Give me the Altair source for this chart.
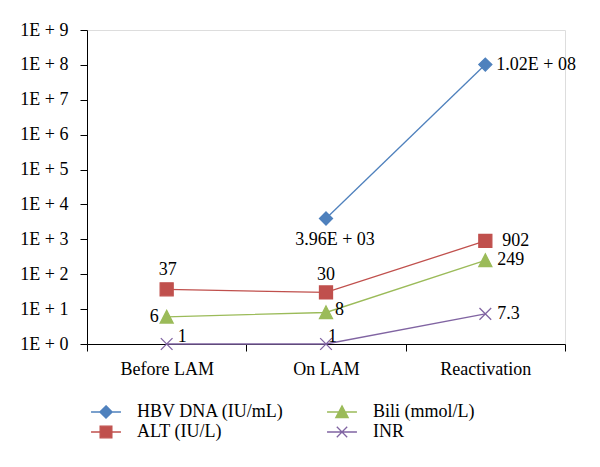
import altair as alt
import pandas as pd

stages = ["Before LAM", "On LAM", "Reactivation"]
series = ["HBV DNA (IU/mL)", "ALT (IU/L)", "Bili (mmol/L)", "INR"]
hbv_dna = [None, 3.96e3, 1.02e8]
alt_iu = [37, 30, 902]
bili = [6, 8, 249]
inr = [1, 1, 7.3]
colors = ["#4F81BD", "#C0504D", "#9BBB59", "#8064A2"]
y_ticks = [10 ** i for i in range(10)]

values = {series[0]: hbv_dna, series[1]: alt_iu, series[2]: bili, series[3]: inr}


def fmt(s, v):
    if s == series[0]:
        m, e = f"{v:.2E}".split("E")
        return f"{m}E + {int(e):02d}"
    return f"{v:g}"


rows = []
for s in series:
    for st, v in zip(stages, values[s]):
        if v is not None:
            rows.append({"series": s, "stage": st, "value": v, "label": fmt(s, v)})
df = pd.DataFrame(rows)

# marker paths (unit coords, scaled by sqrt(size)/2)
plot_paths = [
    "M0,-1L1,0L0,1L-1,0Z",
    "M-1,-1H1V1H-1Z",
    "M0,-1L1,0.95H-1Z",
    "M-0.9,-0.9L0.9,0.9M-0.9,0.9L0.9,-0.9",
]
legend_paths = [
    "M-2.3,0H2.3M0,-0.95L0.95,0L0,0.95L-0.95,0Z",
    "M-2.3,0H2.3M-0.9,-0.9H0.9V0.9H-0.9Z",
    "M-2.3,0H2.3M0,-0.95L0.95,0.85H-0.95Z",
    "M-2.3,0H2.3M-0.8,-0.8L0.8,0.8M-0.8,0.8L0.8,-0.8",
]

fills = colors[:3] + ["transparent"]

FONT = "Liberation Serif"

x_enc = alt.X(
    "stage:N",
    sort=stages,
    scale=alt.Scale(type="band", domain=stages, paddingInner=0, paddingOuter=0),
    axis=alt.Axis(
        title=None, tickBand="extent", labelAngle=0, tickSize=7, labelPadding=9,
        domainColor="black", tickColor="black", labelColor="black",
        labelFont=FONT, labelFontSize=18, grid=False,
    ),
)
y_enc = alt.Y(
    "value:Q",
    scale=alt.Scale(type="log", domain=[1, 1e9], nice=False),
    axis=alt.Axis(
        title=None, values=y_ticks,
        labelExpr="'1E + ' + round(log(datum.value) / LN10)",
        tickSize=7, labelPadding=12, domainColor="black", tickColor="black",
        labelColor="black", labelFont=FONT, labelFontSize=18, grid=False,
    ),
)
stroke_scale = alt.Scale(domain=series, range=colors)
fill_scale = alt.Scale(domain=series, range=fills)

lines = alt.Chart(df).mark_line(strokeWidth=1.3).encode(
    x=x_enc, y=y_enc, stroke=alt.Stroke("series:N", scale=stroke_scale, legend=None), detail="series:N"
)

points = alt.Chart(df).mark_point(size=169, strokeWidth=1.3, opacity=1).encode(
    x=x_enc,
    y=y_enc,
    stroke=alt.Stroke("series:N", scale=stroke_scale, legend=None),
    shape=alt.Shape("series:N", scale=alt.Scale(domain=series, range=plot_paths), legend=None),
    fill=alt.Fill("series:N", scale=fill_scale, legend=None),
)

legend_layer = (
    alt.Chart(df)
    .transform_filter("false")
    .mark_point(size=169, strokeWidth=1.3, opacity=1)
    .encode(
        x=x_enc,
        y=y_enc,
        stroke=alt.Stroke("series:N", scale=stroke_scale, legend=alt.Legend(title=None, values=series)),
        shape=alt.Shape(
            "series:N",
            scale=alt.Scale(domain=series, range=legend_paths),
            legend=alt.Legend(title=None, values=series),
        ),
        fill=alt.Fill(
            "series:N",
            scale=fill_scale,
            legend=alt.Legend(
                title=None, orient="none", legendX=10, legendY=373, columns=2,
                values=series,
                symbolSize=169, labelOffset=22, columnPadding=40, rowPadding=2,
                labelFont=FONT, labelFontSize=18, labelColor="black", padding=0,
                symbolStrokeWidth=1.3, symbolOpacity=1,
            ),
        ),
    )
)

placements = {
    (series[0], "On LAM"): dict(align="center", dx=9, dy=22),
    (series[0], "Reactivation"): dict(align="left", dx=11, dy=0),
    (series[1], "Before LAM"): dict(align="center", dx=1, dy=-19),
    (series[1], "On LAM"): dict(align="center", dx=0, dy=-17),
    (series[1], "Reactivation"): dict(align="left", dx=17, dy=0),
    (series[2], "Before LAM"): dict(align="right", dx=-8, dy=0),
    (series[2], "On LAM"): dict(align="left", dx=9, dy=-2),
    (series[2], "Reactivation"): dict(align="left", dx=12, dy=0),
    (series[3], "Before LAM"): dict(align="left", dx=11, dy=-7),
    (series[3], "On LAM"): dict(align="left", dx=2, dy=-7),
    (series[3], "Reactivation"): dict(align="left", dx=12, dy=0),
}

texts = []
for (s, st), p in placements.items():
    texts.append(
        alt.Chart(df)
        .transform_filter((alt.datum.series == s) & (alt.datum.stage == st))
        .mark_text(font=FONT, fontSize=18, color="black", baseline="middle", **p)
        .encode(x=x_enc, y=y_enc, text="label:N")
    )

chart = (
    alt.layer(lines, points, legend_layer, *texts)
    .resolve_scale(shape="independent", fill="independent", stroke="independent")
    .properties(
        width=478, height=314,
        autosize=alt.AutoSizeParams(type="none"),
        padding={"left": 79, "top": 22, "right": 27, "bottom": 115},
    )
    .configure_view(stroke=None)
    .configure(background="white")
)

chart.save("out.html", embed_options={"renderer": "svg", "actions": False})
